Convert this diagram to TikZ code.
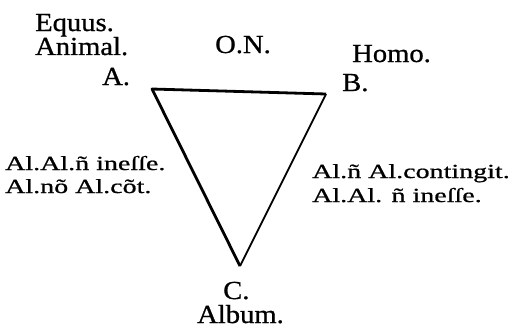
\documentclass[tikz,border=0pt]{standalone}
\usepackage{fontspec}
\setmainfont{Liberation Serif}[FakeStretch=1.1,FakeBold=0.8]
\newfontfamily\sidefont{Liberation Serif}[FakeStretch=1.4,FakeBold=0.8]
\begin{document}
\begin{tikzpicture}[x=1pt,y=-1pt,
  lab/.style={anchor=base west,inner sep=0pt,font=\fontsize{26}{26}\selectfont},
  side/.style={anchor=base west,inner sep=0pt,font=\sidefont\fontsize{20}{20}\selectfont},
  edge/.style={line width=2.8pt,line join=round}]
\useasboundingbox (0,0) rectangle (521,329);
\coordinate (va) at (152,89);
\coordinate (vb) at (326,94);
\coordinate (vc) at (240,266);
\node[lab] (equus) at (35,31) {Equus.};
\node[lab] (animal) at (35,55) {Animal.};
\node[lab] (a) at (102,85) {A.};
\node[lab] (on) at (215,53) {O.N.};
\node[lab] (homo) at (352,62) {Homo.};
\node[lab] (b) at (342,91) {B.};
\node[lab] (c) at (223,299) {C.};
\node[lab] (album) at (197,323) {Album.};
\node[side] (l1) at (5,170) {Al.Al.ñ ineſſe.};
\node[side] (l2) at (5,193) {Al.nõ Al.cõt.};
\node[side] (r1) at (312,178) {Al.ñ Al.contingit.};
\node[side] (r2) at (312,202) {Al.Al. ñ ineſſe.};
\draw[edge] (vb) -- (va) -- (vc);
\draw[line width=1.8pt] (vc) -- (vb);
\end{tikzpicture}
\end{document}
